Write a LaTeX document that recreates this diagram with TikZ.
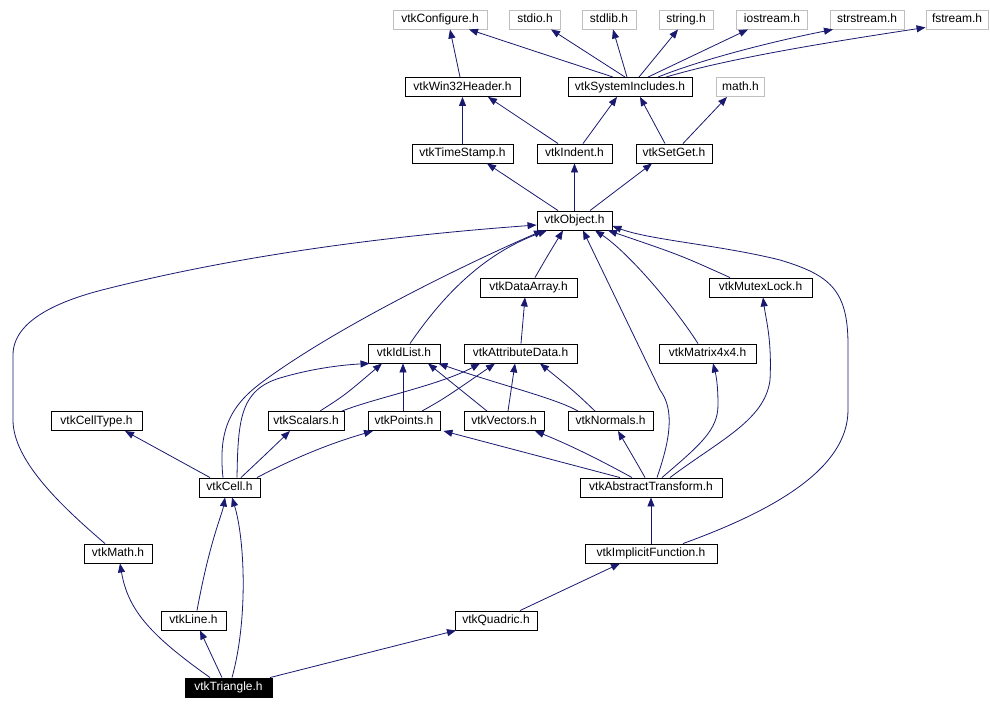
\documentclass[tikz,border=0pt]{standalone}
\usepackage{fontspec}
\setmainfont{Liberation Sans}
\usetikzlibrary{arrows.meta}
\definecolor{edgec}{HTML}{191970}
\definecolor{grayb}{HTML}{BFBFBF}
\begin{document}
\begin{tikzpicture}[x=1pt,y=-1pt,
  hdr/.style={draw=black, line width=0.9pt, fill=white, inner sep=0pt,
    minimum height=19pt, text height=9pt, text depth=2.5pt,
    font=\fontsize{12}{14}\selectfont, text=black},
  sys/.style={hdr, draw=grayb},
  cur/.style={hdr, fill=black, text=white},
  edge/.style={draw=edgec, line width=0.8pt, -{Triangle[length=9pt,width=7pt]}}]
\fill[white] (0,0) rectangle (990,709);
\useasboundingbox (0,0) rectangle (990,709);
% row 0
\node[sys, minimum width=94pt] (conf) at (440,19.5) {vtkConfigure.h};
\node[sys, minimum width=51pt] (stdio) at (535,19.5) {stdio.h};
\node[sys, minimum width=54pt] (stdlib) at (609,19.5) {stdlib.h};
\node[sys, minimum width=54pt] (string) at (686,19.5) {string.h};
\node[sys, minimum width=71pt] (iostream) at (772,19.5) {iostream.h};
\node[sys, minimum width=74pt] (strstream) at (867,19.5) {strstream.h};
\node[sys, minimum width=62pt] (fstream) at (957,19.5) {fstream.h};
% row 1
\node[hdr, minimum width=115pt] (win32) at (462.5,87) {vtkWin32Header.h};
\node[hdr, minimum width=124pt] (sysinc) at (630,87) {vtkSystemIncludes.h};
\node[sys, minimum width=48pt] (math) at (740.5,87) {math.h};
% row 2
\node[hdr, minimum width=101pt] (timestamp) at (462.5,153.5) {vtkTimeStamp.h};
\node[hdr, minimum width=75pt] (indent) at (574.5,153.5) {vtkIndent.h};
\node[hdr, minimum width=76pt] (setget) at (674,153.5) {vtkSetGet.h};
% row 3
\node[hdr, minimum width=75pt] (object) at (574.5,220.5) {vtkObject.h};
% row 4
\node[hdr, minimum width=97pt] (dataarray) at (528.5,287.5) {vtkDataArray.h};
\node[hdr, minimum width=103pt] (mutex) at (760.5,287.5) {vtkMutexLock.h};
% row 5
\node[hdr, minimum width=72pt] (idlist) at (404,353.5) {vtkIdList.h};
\node[hdr, minimum width=113pt] (attrib) at (520.5,353.5) {vtkAttributeData.h};
\node[hdr, minimum width=97pt] (matrix) at (707.5,353.5) {vtkMatrix4x4.h};
% row 6
\node[hdr, minimum width=91pt] (celltype) at (96.5,421) {vtkCellType.h};
\node[hdr, minimum width=76pt] (scalars) at (306,421) {vtkScalars.h};
\node[hdr, minimum width=72pt] (points) at (404,421) {vtkPoints.h};
\node[hdr, minimum width=80pt] (vectors) at (504,421) {vtkVectors.h};
\node[hdr, minimum width=85pt] (normals) at (610.5,421) {vtkNormals.h};
% row 7
\node[hdr, minimum width=61pt] (cell) at (229.5,487.5) {vtkCell.h};
\node[hdr, minimum width=142pt] (abstract) at (651,487.5) {vtkAbstractTransform.h};
% row 8
\node[hdr, minimum width=68pt] (vtkmath) at (118,553.5) {vtkMath.h};
\node[hdr, minimum width=132pt] (implicit) at (651,553.5) {vtkImplicitFunction.h};
% row 9
\node[hdr, minimum width=65pt] (line) at (193.5,620.5) {vtkLine.h};
\node[hdr, minimum width=82pt] (quadric) at (496,620.5) {vtkQuadric.h};
% row 10
\node[cur, minimum width=87pt] (triangle) at (228.5,687.5) {vtkTriangle.h};

% edges top
\draw[edge] ([xshift=-2.5pt]win32.north) -- ([xshift=10pt]conf.south);
\draw[edge] ([xshift=-17pt]sysinc.north) -- ([xshift=29pt]conf.south);
\draw[edge] ([xshift=-5pt]sysinc.north) -- ([xshift=16pt]stdio.south);
\draw[edge] ([xshift=-3pt]sysinc.north) -- ([xshift=4pt]stdlib.south);
\draw[edge] ([xshift=9pt]sysinc.north) -- ([xshift=-8pt]string.south);
\draw[edge] ([xshift=18pt]sysinc.north) -- ([xshift=-24pt]iostream.south);
\draw[edge] ([xshift=28pt]sysinc.north) .. controls (700,60) and (770,42) .. ([xshift=-34pt]strstream.south);
\draw[edge] ([xshift=36pt]sysinc.north) .. controls (730,58) and (830,42) .. ([yshift=2pt]fstream.south west);
\draw[edge] (timestamp.north) -- (win32.south);
\draw[edge] ([xshift=-16.5pt]indent.north) -- ([xshift=25.5pt]win32.south);
\draw[edge] ([xshift=8.5pt]indent.north) -- ([xshift=-13pt]sysinc.south);
\draw[edge] ([xshift=-9pt]setget.north) .. controls (655,125) .. ([xshift=10pt]sysinc.south);
\draw[edge] ([xshift=9pt]setget.north) -- ([xshift=-13.5pt]math.south);
\draw[edge] ([xshift=-16.5pt]object.north) -- ([xshift=24.5pt]timestamp.south);
\draw[edge] (object.north) -- (indent.south);
\draw[edge] ([xshift=15.5pt]object.north) -- ([xshift=-22pt]setget.south);
% into vtkObject
\draw[edge] ([xshift=6.5pt]dataarray.north) .. controls (548,255) .. ([xshift=-11.5pt]object.south);
\draw[edge] ([xshift=-30.5pt]mutex.north) .. controls (680,255) .. ([xshift=33.5pt]object.south);
\draw[edge] ([xshift=6pt]idlist.north) .. controls (440,300) and (480,255) .. ([xshift=-27.5pt]object.south);
\draw[edge] ([xshift=-6.5pt]cell.north) .. controls (218,430) and (230,405) .. (265,380)
  .. controls (340,325) and (470,262) .. ([xshift=-31.5pt]object.south);
\draw[edge] ([xshift=-9.5pt]matrix.north) .. controls (670,300) and (625,250) .. ([xshift=20.5pt]object.south);
\draw[edge] ([xshift=6pt]abstract.north) .. controls (670,440) and (675,410) .. (660,390) -- ([xshift=8.5pt]object.south);
\draw[edge] ([xshift=-13pt]vtkmath.north) .. controls (60,505) and (13,460) .. (13,420) -- (13,355)
  .. controls (13,320) and (60,300) .. (110,288) .. controls (250,253) and (400,235) .. ([yshift=-4.5pt]object.west);
\draw[edge] ([xshift=32pt]implicit.north) .. controls (770,512) and (848,470) .. (848,410) -- (848,345)
  .. controls (848,290) and (830,275) .. (780,260) .. controls (720,245) and (650,240) .. ([yshift=-5.5pt]object.east);
% middle
\draw[edge] ([xshift=0.5pt]attrib.north) -- ([xshift=-3.5pt]dataarray.south);
\draw[edge] ([xshift=7.5pt]cell.north) .. controls (238,420) and (240,390) .. (280,378)
  .. controls (310,369) and (340,365) .. ([xshift=2pt]idlist.south west);
\draw[edge] ([xshift=11pt]abstract.north) .. controls (700,445) and (718,430) .. (718,405)
  .. controls (718,385) and (716,375) .. ([xshift=5.5pt]matrix.south);
\draw[edge] ([xshift=19pt]abstract.north) .. controls (720,440) and (765,420) .. (770,380)
  .. controls (772,340) and (766,320) .. ([xshift=2.5pt]mutex.south);
\draw[edge] ([xshift=-31pt]abstract.north) -- ([xshift=3pt]points.south east);
\draw[edge] ([xshift=-19pt]abstract.north) .. controls (600,460) and (570,445) .. ([xshift=31pt]vectors.south);
\draw[edge] ([xshift=-6pt]abstract.north) .. controls (638,465) and (628,448) .. ([xshift=7.5pt]normals.south);
\draw[edge] (implicit.north) -- (abstract.south);
\draw[edge] ([xshift=24pt]quadric.north) -- ([xshift=-31pt]implicit.south);
% row 6 -> row 5
\draw[edge] ([xshift=14pt]scalars.north) .. controls (345,395) .. ([xshift=-22pt]idlist.south);
\draw[edge] ([xshift=36pt]scalars.north) .. controls (375,398) and (440,385) .. ([xshift=-40.5pt]attrib.south);
\draw[edge] ([xshift=-1pt]points.north) -- ([xshift=-1pt]idlist.south);
\draw[edge] ([xshift=18pt]points.north) .. controls (445,398) .. ([xshift=-25.5pt]attrib.south);
\draw[edge] ([xshift=-17pt]vectors.north) -- ([xshift=24pt]idlist.south);
\draw[edge] ([xshift=4pt]vectors.north) -- ([xshift=-5.5pt]attrib.south);
\draw[edge] ([xshift=-32.5pt]normals.north) .. controls (555,398) and (500,385) .. ([xshift=-2pt]idlist.south east);
\draw[edge] ([xshift=-15.5pt]normals.north) .. controls (575,392) .. ([xshift=19.5pt]attrib.south);
% row 7 -> row 6
\draw[edge] ([xshift=-19.5pt]cell.north) -- ([xshift=28.5pt]celltype.south);
\draw[edge] ([xshift=11.5pt]cell.north) .. controls (265,455) .. ([xshift=-16pt]scalars.south);
\draw[edge] ([xshift=27.5pt]cell.north) .. controls (300,455) and (335,442) .. ([xshift=-31pt]points.south);
% bottom
\draw[edge] ([xshift=-18.5pt]triangle.north) .. controls (150,635) and (128,610) .. ([xshift=2pt]vtkmath.south);
\draw[edge] ([xshift=-6.5pt]triangle.north) -- ([xshift=6.5pt]line.south);
\draw[edge] ([xshift=3.5pt]triangle.north) .. controls (248,620) and (245,540) .. ([xshift=2.5pt]cell.south);
\draw[edge] ([xshift=3.5pt]line.north) .. controls (210,540) and (222,515) .. ([xshift=-4.5pt]cell.south);
\draw[edge] ([xshift=41.5pt]triangle.north) -- ([xshift=-40pt]quadric.south);
\end{tikzpicture}
\end{document}
